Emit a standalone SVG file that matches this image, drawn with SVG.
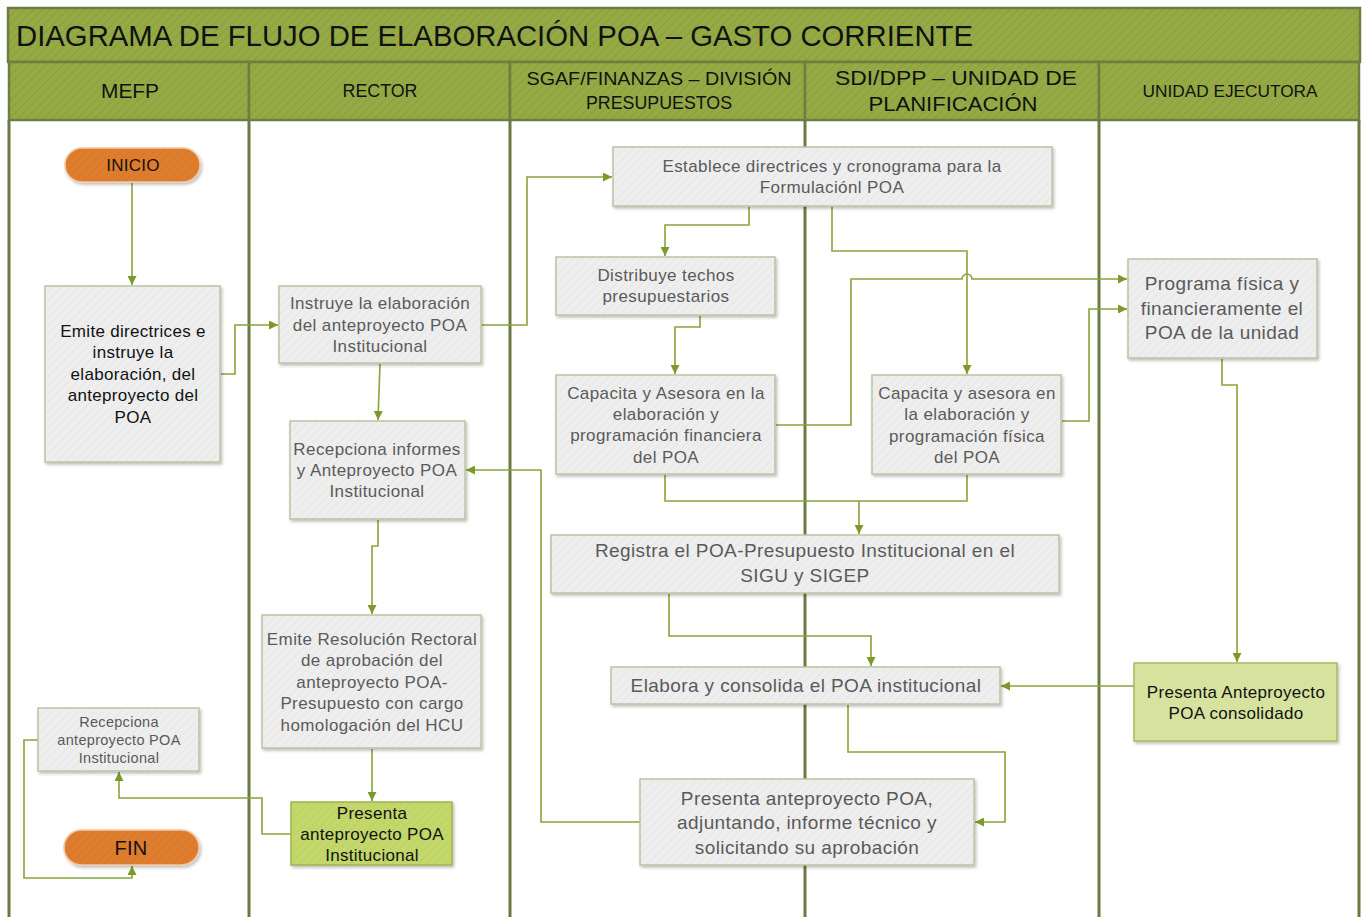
<svg xmlns="http://www.w3.org/2000/svg" width="1365" height="917" viewBox="0 0 1365 917">
<defs>
  <pattern id="hatchG" width="6" height="6" patternUnits="userSpaceOnUse" patternTransform="rotate(45)">
    <rect width="6" height="6" fill="#95aa45"/>
    <line x1="0" y1="0" x2="0" y2="6" stroke="#8a9f3e" stroke-width="2"/>
  </pattern>
  <pattern id="hatchB" width="6" height="6" patternUnits="userSpaceOnUse" patternTransform="rotate(45)">
    <rect width="6" height="6" fill="#eeeeee"/>
    <line x1="0" y1="0" x2="0" y2="6" stroke="#e6e6e6" stroke-width="2"/>
  </pattern>
  <pattern id="hatchL" width="6" height="6" patternUnits="userSpaceOnUse" patternTransform="rotate(45)">
    <rect width="6" height="6" fill="#c3d76b"/>
    <line x1="0" y1="0" x2="0" y2="6" stroke="#bcd064" stroke-width="2"/>
  </pattern>
  <pattern id="hatchO" width="6" height="6" patternUnits="userSpaceOnUse" patternTransform="rotate(45)">
    <rect width="6" height="6" fill="#df7d2f"/>
    <line x1="0" y1="0" x2="0" y2="6" stroke="#d87629" stroke-width="2"/>
  </pattern>
  <filter id="sh" x="-10%" y="-10%" width="130%" height="140%">
    <feDropShadow dx="1.5" dy="2" stdDeviation="1.5" flood-color="#000" flood-opacity="0.25"/>
  </filter>
  <marker id="arr" viewBox="0 0 10 10" refX="10" refY="5" markerWidth="9" markerHeight="9" markerUnits="userSpaceOnUse" orient="auto">
    <path d="M0,0 L10,5 L0,10 z" fill="#7c9a2a"/>
  </marker>
  <style>
    .hdr{fill:url(#hatchG);stroke:#6f7d43;stroke-width:2.5}
    .lane{stroke:#6b7a45;stroke-width:3;fill:none}
    .htxt{font-family:"Liberation Sans",Arial,sans-serif;fill:#111;text-anchor:middle}
    .box{fill:url(#hatchB);stroke:#bcc3a0;stroke-width:1.5;filter:url(#sh)}
    .gbox{fill:url(#hatchL);stroke:#9fb44e;stroke-width:1.5;filter:url(#sh)}
    .cbox{fill:#d6e29e;stroke:#a9bb60;stroke-width:1.5;filter:url(#sh)}
    .pill{fill:url(#hatchO);stroke:#f0c9a5;stroke-width:1.5;filter:url(#sh)}
    .t{font-family:"Liberation Sans",Arial,sans-serif;font-size:17px;letter-spacing:0.4px;fill:#5a5a5a;text-anchor:middle}
    .tb{font-family:"Liberation Sans",Arial,sans-serif;font-size:17px;letter-spacing:0.3px;fill:#111;text-anchor:middle}
    .c{fill:none;stroke:#8aa33a;stroke-width:1.6}
    .ca{fill:none;stroke:#8aa33a;stroke-width:1.6;marker-end:url(#arr)}
  </style>
</defs>
<rect width="1365" height="917" fill="#ffffff"/>

<g id="frame">
  <rect class="hdr" x="8" y="8" width="1352" height="54"/>
  <text class="htxt" x="16" y="46" font-size="30" style="text-anchor:start" textLength="957" lengthAdjust="spacingAndGlyphs">DIAGRAMA DE FLUJO DE ELABORACIÓN POA – GASTO CORRIENTE</text>
  <rect class="hdr" x="9" y="62" width="240" height="58"/>
  <rect class="hdr" x="249" y="62" width="261" height="58"/>
  <rect class="hdr" x="510" y="62" width="295" height="58"/>
  <rect class="hdr" x="805" y="62" width="294" height="58"/>
  <rect class="hdr" x="1099" y="62" width="260" height="58"/>
  <text class="htxt" x="130" y="98" font-size="20" textLength="58" lengthAdjust="spacingAndGlyphs">MEFP</text>
  <text class="htxt" x="380" y="97" font-size="18" textLength="75" lengthAdjust="spacingAndGlyphs">RECTOR</text>
  <text class="htxt" x="659" y="85" font-size="19" textLength="265" lengthAdjust="spacingAndGlyphs">SGAF/FINANZAS – DIVISIÓN</text>
  <text class="htxt" x="659" y="109" font-size="19" textLength="146" lengthAdjust="spacingAndGlyphs">PRESUPUESTOS</text>
  <text class="htxt" x="956" y="85" font-size="21" textLength="242" lengthAdjust="spacingAndGlyphs">SDI/DPP – UNIDAD DE</text>
  <text class="htxt" x="953" y="111" font-size="21" textLength="169" lengthAdjust="spacingAndGlyphs">PLANIFICACIÓN</text>
  <text class="htxt" x="1230" y="97" font-size="16" textLength="175" lengthAdjust="spacingAndGlyphs">UNIDAD EJECUTORA</text>
  <line class="lane" x1="9" y1="120" x2="9" y2="917"/>
  <line class="lane" x1="249" y1="120" x2="249" y2="917"/>
  <line class="lane" x1="510" y1="120" x2="510" y2="917"/>
  <line class="lane" x1="805" y1="120" x2="805" y2="917"/>
  <line class="lane" x1="1099" y1="120" x2="1099" y2="917"/>
  <line class="lane" x1="1359" y1="120" x2="1359" y2="917"/>
</g>

<g id="connectors">
  <path class="ca" d="M132,183 V285"/>
  <path class="ca" d="M221,374 H235 V325 H278"/>
  <path class="ca" d="M482,325 H527 V177 H612"/>
  <path class="ca" d="M749,207 V225 H665 V256"/>
  <path class="ca" d="M832,207 V251 H967 V374"/>
  <path class="ca" d="M700,316 V327 H675 V374"/>
  <path class="ca" d="M776,425 H851 V279 H962 A5,5 0 0 1 972,279 H1127"/>
  <path class="ca" d="M1062,421 H1089 V309 H1127"/>
  <path class="c" d="M665,475 V501 H967 V475"/>
  <path class="ca" d="M859,501 V534"/>
  <path class="ca" d="M669,594 V636 H871 V666"/>
  <path class="ca" d="M1222,359 V385 H1237 V662"/>
  <path class="ca" d="M1134,686 H1001"/>
  <path class="ca" d="M848,705 V752 H1005 V822 H975"/>
  <path class="ca" d="M640,822 H541 V470 H466"/>
  <path class="ca" d="M380,364 L378,420"/>
  <path class="ca" d="M378,520 V546 H372 V614"/>
  <path class="ca" d="M372,749 V801"/>
  <path class="ca" d="M291,834 H262 V798 H119 V772"/>
  <path class="ca" d="M38,740 H24 V878 H132 V866"/>
</g>

<g id="n-inicio">
  <rect class="pill" x="65" y="148" width="135" height="34" rx="17"/>
  <text class="tb" x="133" y="171">INICIO</text>
</g>
<g id="n-fin">
  <rect class="pill" x="64" y="830" width="135" height="35" rx="17.5"/>
  <text class="tb" x="131" y="855" style="font-size:20px">FIN</text>
</g>
<g id="n-emite">
  <rect class="box" x="45" y="286" width="175" height="176"/>
  <text class="tb"><tspan x="133" y="337">Emite directrices e</tspan><tspan x="133" y="358">instruye la</tspan><tspan x="133" y="380">elaboración, del</tspan><tspan x="133" y="401">anteproyecto del</tspan><tspan x="133" y="423">POA</tspan></text>
</g>
<g id="n-instruye">
  <rect class="box" x="279" y="286" width="202" height="77"/>
  <text class="t"><tspan x="380" y="309">Instruye la elaboración</tspan><tspan x="380" y="331">del anteproyecto POA</tspan><tspan x="380" y="352">Institucional</tspan></text>
</g>
<g id="n-recepciona-informes">
  <rect class="box" x="290" y="421" width="175" height="98"/>
  <text class="t"><tspan x="377" y="455">Recepciona informes</tspan><tspan x="377" y="476">y Anteproyecto POA</tspan><tspan x="377" y="497">Institucional</tspan></text>
</g>
<g id="n-resolucion">
  <rect class="box" x="262" y="615" width="219" height="133"/>
  <text class="t"><tspan x="372" y="645">Emite Resolución Rectoral</tspan><tspan x="372" y="666">de aprobación del</tspan><tspan x="372" y="688">anteproyecto POA-</tspan><tspan x="372" y="709">Presupuesto con cargo</tspan><tspan x="372" y="731">homologación del HCU</tspan></text>
</g>
<g id="n-presenta-inst">
  <rect class="gbox" x="291" y="802" width="161" height="63"/>
  <text class="tb"><tspan x="372" y="819">Presenta</tspan><tspan x="372" y="840">anteproyecto POA</tspan><tspan x="372" y="861">Institucional</tspan></text>
</g>
<g id="n-recepciona-ante">
  <rect class="box" x="38" y="708" width="161" height="63"/>
  <text class="t" style="font-size:14.5px;letter-spacing:0.3px"><tspan x="119" y="727">Recepciona</tspan><tspan x="119" y="745">anteproyecto  POA</tspan><tspan x="119" y="763">Institucional</tspan></text>
</g>
<g id="n-establece">
  <rect class="box" x="613" y="147" width="439" height="59"/>
  <text class="t"><tspan x="832" y="172">Establece directrices y cronograma para la</tspan><tspan x="832" y="193">Formulaciónl POA</tspan></text>
</g>
<g id="n-distribuye">
  <rect class="box" x="556" y="257" width="219" height="58"/>
  <text class="t"><tspan x="666" y="281">Distribuye techos</tspan><tspan x="666" y="302">presupuestarios</tspan></text>
</g>
<g id="n-capacita-fin">
  <rect class="box" x="556" y="375" width="219" height="99"/>
  <text class="t"><tspan x="666" y="399">Capacita y Asesora en la</tspan><tspan x="666" y="420">elaboración y</tspan><tspan x="666" y="441">programación financiera</tspan><tspan x="666" y="463">del POA</tspan></text>
</g>
<g id="n-capacita-fis">
  <rect class="box" x="872" y="375" width="189" height="99"/>
  <text class="t"><tspan x="967" y="399">Capacita y asesora en</tspan><tspan x="967" y="420">la elaboración y</tspan><tspan x="967" y="442">programación física</tspan><tspan x="967" y="463">del POA</tspan></text>
</g>
<g id="n-programa">
  <rect class="box" x="1128" y="259" width="189" height="99"/>
  <text class="t" style="font-size:19px"><tspan x="1222" y="290">Programa física y</tspan><tspan x="1222" y="315">financieramente el</tspan><tspan x="1222" y="339">POA de la unidad</tspan></text>
</g>
<g id="n-registra">
  <rect class="box" x="551" y="535" width="508" height="58"/>
  <text class="t" style="font-size:19px"><tspan x="805" y="557">Registra el POA-Presupuesto Institucional en el</tspan><tspan x="805" y="582">SIGU y SIGEP</tspan></text>
</g>
<g id="n-elabora">
  <rect class="box" x="611" y="667" width="389" height="37"/>
  <text class="t" style="font-size:19px" x="806" y="692">Elabora y consolida el POA institucional</text>
</g>
<g id="n-consolidado">
  <rect class="cbox" x="1134" y="663" width="203" height="78"/>
  <text class="tb"><tspan x="1236" y="698">Presenta Anteproyecto</tspan><tspan x="1236" y="719">POA consolidado</tspan></text>
</g>
<g id="n-presenta-adj">
  <rect class="box" x="640" y="779" width="334" height="86"/>
  <text class="t" style="font-size:19px"><tspan x="807" y="805">Presenta anteproyecto POA,</tspan><tspan x="807" y="829">adjuntando, informe técnico y</tspan><tspan x="807" y="854">solicitando su aprobación</tspan></text>
</g>
</svg>
